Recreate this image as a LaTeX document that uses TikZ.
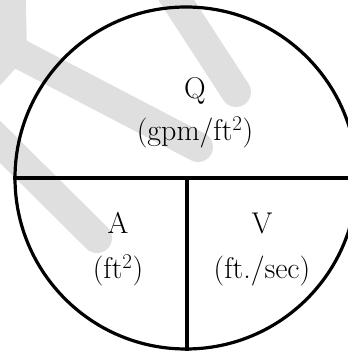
\documentclass[tikz,border=0pt]{standalone}
\begin{document}
\begin{tikzpicture}[x=1pt,y=-1pt,
  wmark/.style={line width=30pt, color=gray!25, line cap=round, line join=round},
  rim/.style={line width=3.2pt, black},
  lbl/.style={anchor=base, inner sep=0pt, font=\fontsize{30}{34}\selectfont}]
\useasboundingbox (0,0) rectangle (348,351);
\clip (0,0) rectangle (348,351);
% watermark
\draw[wmark] (10,-30) -- (12,50) -- (198,147);
\draw[wmark] (12,50) -- (-20,85);
\draw[wmark] (-40,102) -- (97,238);
\draw[wmark] (160,-25) -- (236,92);
% circle and dividers
\node[circle, draw, rim, minimum size=342pt, inner sep=0pt] (c) at (186,178) {};
\draw[rim] (c.west) -- (c.east);
\coordinate (top) at (187,178);
\coordinate (bot) at (187,352);
\draw[rim] (top) -- (bot);
% labels
\node[lbl] (q) at (195,98) {Q};
\node[lbl] (qu) at (195,140) {(gpm/ft\textsuperscript{2})};
\node[lbl] (a) at (118,233) {A};
\node[lbl] (au) at (118,278) {(ft\textsuperscript{2})};
\node[lbl] (v) at (262,233) {V};
\node[lbl] (vu) at (262,278) {(ft./sec)};
\end{tikzpicture}
\end{document}
